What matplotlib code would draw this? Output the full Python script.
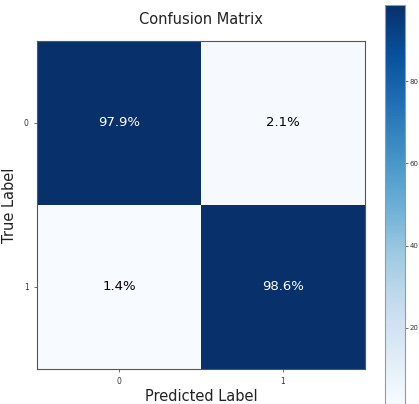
import numpy as np
import matplotlib
matplotlib.use("Agg")
import matplotlib.pyplot as plt


classes = ["0", "1"]
cm_percent = np.array([[97.9, 2.1],
                       [1.4, 98.6]])
cbar_ticks = [20, 40, 60, 80]


fig = plt.figure(figsize=(4.19, 4.04), dpi=100)
ax = fig.add_axes([37/419, 1 - 369/404, 328/419, 328/404])
cax = fig.add_axes([385/419, 0.0, 20/419, 399/404])

im = ax.imshow(cm_percent, cmap="Blues", interpolation="nearest",
               vmin=cm_percent.min(), vmax=cm_percent.max(), aspect="auto")

cb = fig.colorbar(im, cax=cax, ticks=cbar_ticks)
cb.ax.tick_params(labelsize=5, length=2, width=0.5, pad=1.5, colors="#333333")
cb.outline.set_edgecolor("#999999")
cb.outline.set_linewidth(0.8)

thresh = cm_percent.max() / 2.0
for i in range(cm_percent.shape[0]):
    for j in range(cm_percent.shape[1]):
        ax.text(j, i, "%.1f%%" % cm_percent[i, j],
                ha="center", va="center", fontsize=9.5,
                color="white" if cm_percent[i, j] > thresh else "black")

ax.set_xticks(range(len(classes)))
ax.set_yticks(range(len(classes)))
ax.set_xticklabels(classes)
ax.set_yticklabels(classes)
ax.tick_params(labelsize=5.5, length=2.5, width=0.5, colors="#333333")
for s in ax.spines.values():
    s.set_edgecolor("#555555")
    s.set_linewidth(0.8)

ax.set_title("Confusion Matrix", fontsize=10.5, color="#222222", pad=12)
ax.set_xlabel("Predicted Label", fontsize=10.5, color="#222222", labelpad=2)
ax.set_ylabel("True Label", fontsize=10.5, color="#222222", labelpad=5)

fig.savefig("out.png", dpi=100)
